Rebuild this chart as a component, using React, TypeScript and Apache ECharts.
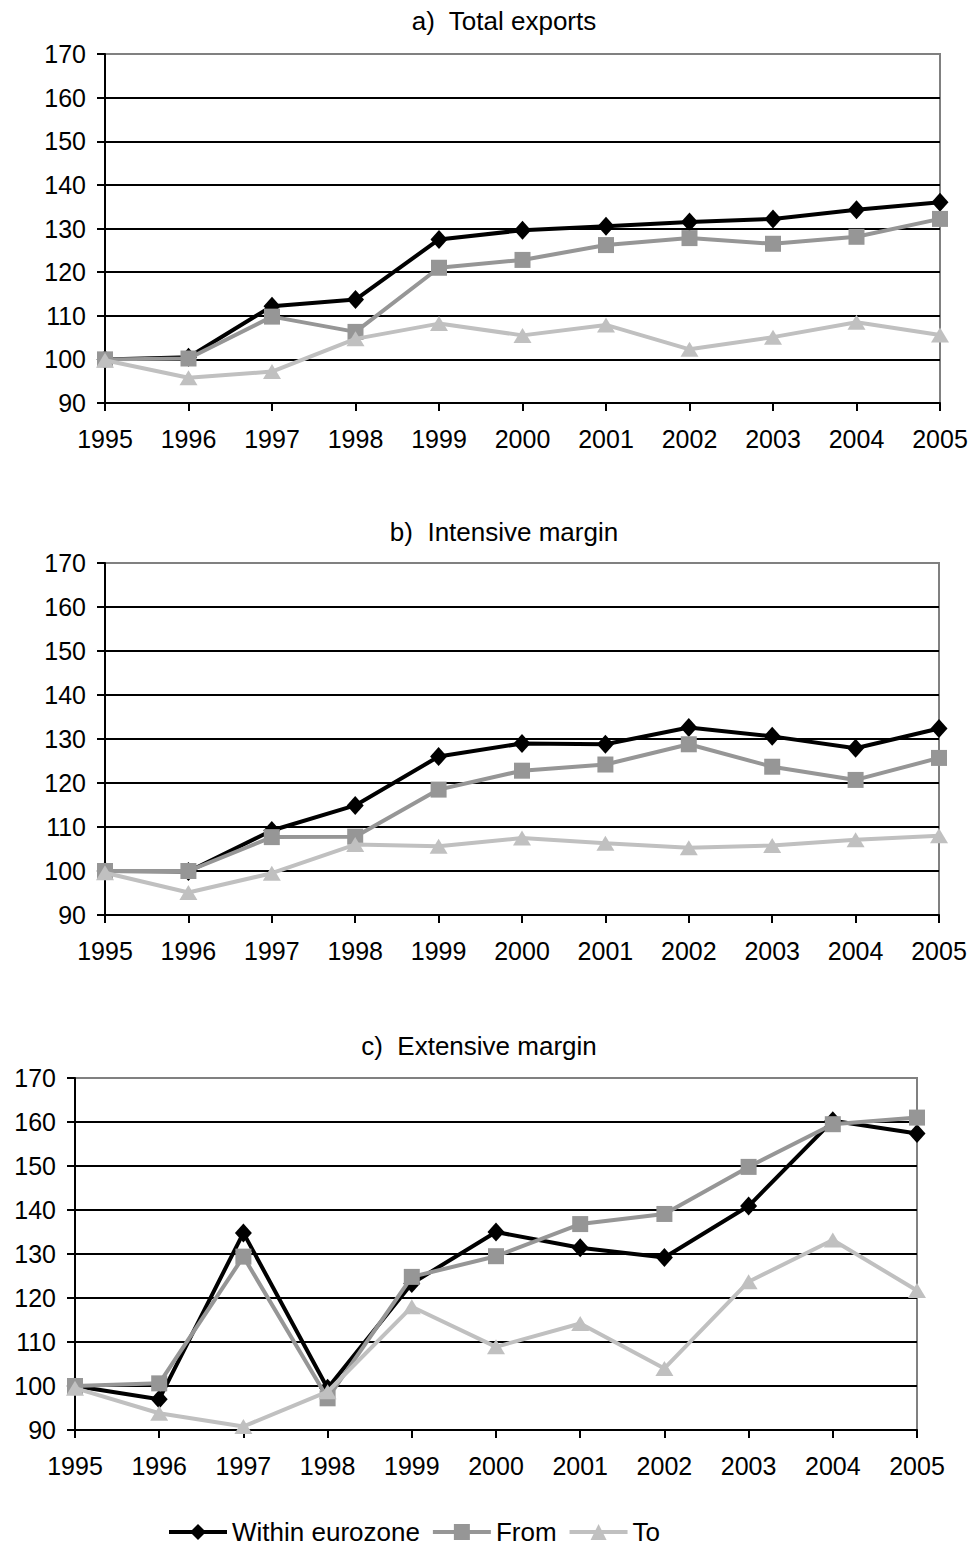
import React, { useEffect, useRef } from "react";
import * as echarts from "echarts";

const years = ["1995", "1996", "1997", "1998", "1999", "2000", "2001", "2002", "2003", "2004", "2005"];
const yTicksMin = 90;
const yTicksMax = 170;
const yTickStep = 10;

const seriesNames = ["Within eurozone", "From", "To"];
const panelTitles = ["a)  Total exports", "b)  Intensive margin", "c)  Extensive margin"];

// a) Total exports
const withinA = [100, 100.5, 112.2, 113.7, 127.5, 129.6, 130.5, 131.5, 132.2, 134.3, 136];
const fromA = [100, 100.2, 109.8, 106.3, 121, 122.8, 126.2, 127.8, 126.5, 128.1, 132.2];
const toA = [99.8, 95.8, 97.2, 104.7, 108.2, 105.5, 107.9, 102.3, 105.1, 108.5, 105.6];

// b) Intensive margin
const withinB = [100, 99.9, 109.2, 114.9, 126, 129, 128.8, 132.6, 130.6, 127.9, 132.4];
const fromB = [100, 100, 107.7, 107.8, 118.5, 122.8, 124.2, 128.8, 123.7, 120.7, 125.7];
const toB = [99.6, 95.1, 99.5, 106, 105.6, 107.5, 106.3, 105.3, 105.8, 107.1, 108];

// c) Extensive margin
const withinC = [100, 97, 134.8, 99.5, 123.3, 135, 131.4, 129.2, 140.9, 160.3, 157.4];
const fromC = [100, 100.6, 129.4, 97.2, 124.8, 129.5, 136.8, 139.1, 149.8, 159.5, 161];
const toC = [99.5, 93.8, 90.8, 98.7, 118, 108.9, 114.2, 104, 123.7, 133.2, 121.7];

const panels = [
  [withinA, fromA, toA],
  [withinB, fromB, toB],
  [withinC, fromC, toC],
];

const FONT = "'Liberation Sans', Arial, sans-serif";
const colors = ["#000000", "#969696", "#c0c0c0"];
const symbols = ["diamond", "rect", "triangle"];
const symbolSizes: any[] = [[17, 19], 16, [18, 15]];

const grids = [
  { left: 105, right: 35, top: 54, height: 349 },
  { left: 105, right: 36, top: 563, height: 352 },
  { left: 75, right: 58, top: 1078, height: 352 },
];
const titlePos = [
  { x: 504, y: 21 },
  { x: 504, y: 532 },
  { x: 479, y: 1046 },
];

export default function App() {
  const ref = useRef<HTMLDivElement>(null);
  useEffect(() => {
    if (!ref.current) return;
    const chart = echarts.init(ref.current, undefined, { renderer: "svg" });
    const nLines = (yTicksMax - yTicksMin) / yTickStep + 1;
    const splitColors: string[] = [];
    for (let i = 0; i < nLines; i++) splitColors.push(i === nLines - 1 ? "#808080" : "#000000");

    const series: any[] = [];
    panels.forEach((p, gi) => {
      p.forEach((data, si) => {
        series.push({
          type: "line",
          name: seriesNames[si],
          xAxisIndex: gi,
          yAxisIndex: gi,
          data,
          symbol: symbols[si],
          symbolSize: symbolSizes[si],
          showAllSymbol: true,
          lineStyle: { color: colors[si], width: 4 },
          itemStyle: { color: colors[si] },
          z: 3 + si,
        });
      });
    });

    chart.setOption({
      animation: false,
      backgroundColor: "#ffffff",
      textStyle: { fontFamily: FONT },
      graphic: titlePos.map((t, i) => ({
        type: "text",
        x: t.x,
        y: t.y,
        style: {
          text: panelTitles[i],
          font: `26px ${FONT}`,
          fill: "#000",
          textAlign: "center",
          textVerticalAlign: "middle",
        },
      })),
      legend: {
        data: seriesNames,
        left: 167,
        top: 1519,
        padding: 0,
        itemWidth: 58,
        itemHeight: 20,
        itemGap: 11,
        lineStyle: { width: 4 },
        textStyle: { fontSize: 26, color: "#000", fontFamily: FONT },
      },
      grid: grids.map((g) => ({
        ...g,
        show: true,
        borderColor: "#808080",
        borderWidth: 2,
        backgroundColor: "transparent",
      })),
      xAxis: grids.map((_, i) => ({
        type: "category",
        gridIndex: i,
        data: years,
        boundaryGap: false,
        axisLine: { show: true, lineStyle: { color: "#000", width: 2 } },
        axisTick: { show: true, inside: false, length: 8, lineStyle: { color: "#000", width: 2 } },
        axisLabel: { fontSize: 25, color: "#000", margin: 23, fontFamily: FONT },
        splitLine: { show: false },
      })),
      yAxis: grids.map((_, i) => ({
        type: "value",
        gridIndex: i,
        min: yTicksMin,
        max: yTicksMax,
        interval: yTickStep,
        axisLine: { show: true, lineStyle: { color: "#000", width: 2 } },
        axisTick: { show: true, inside: false, length: 8, lineStyle: { color: "#000", width: 2 } },
        axisLabel: { fontSize: 25, color: "#000", margin: 19, fontFamily: FONT },
        splitLine: { show: true, lineStyle: { color: splitColors, width: 2 } },
      })),
      series,
    });
    return () => chart.dispose();
  }, []);
  return (
    <div
      ref={ref}
      style={{ position: "absolute", left: 0, top: 0, width: 975, height: 1550, background: "#fff" }}
    />
  );
}
